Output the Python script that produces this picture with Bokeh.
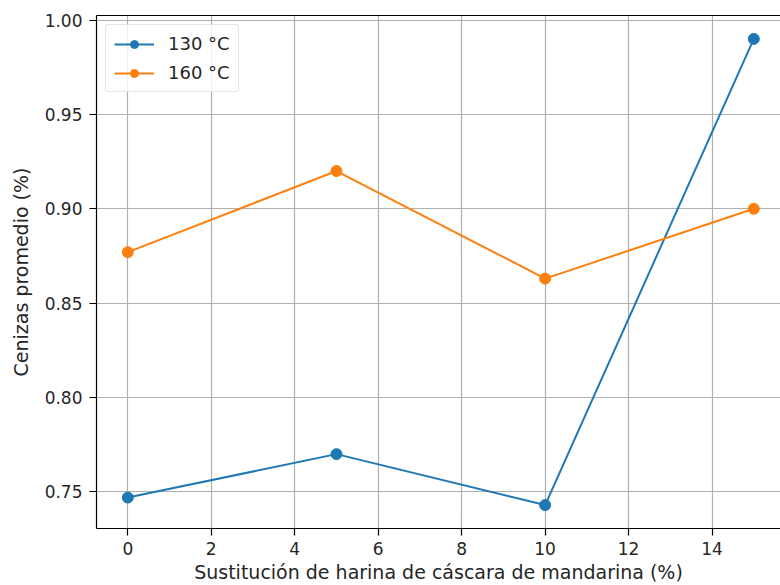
from bokeh.plotting import figure
from bokeh.models import Range1d, FixedTicker, LinearAxis, Legend, LegendItem, NumeralTickFormatter
from bokeh.embed import file_html
from bokeh.resources import INLINE

# Ash content by mandarin peel flour substitution level, at two baking temperatures
sustitucion = [0, 5, 10, 15]
cenizas_130 = [0.747, 0.770, 0.743, 0.990]
cenizas_160 = [0.877, 0.920, 0.863, 0.900]
x_ticks = [0, 2, 4, 6, 8, 10, 12, 14]
y_ticks = [0.75, 0.80, 0.85, 0.90, 0.95, 1.00]

FONT = "DejaVu Sans"
TICK_FS = "17px"
LABEL_FS = "19px"
LEGEND_FS = "18px"
TEXT = "#262626"
BLUE = "#1f77b4"
ORANGE = "#ff7f0e"

p = figure(width=780, height=585, output_backend="svg", toolbar_location=None,
           x_range=Range1d(-0.75, 15.64), y_range=Range1d(0.7306, 1.0024),
           min_border_left=96, min_border_right=0, min_border_top=15, min_border_bottom=57)
p.outline_line_color = None
p.background_fill_color = "white"
p.border_fill_color = "white"

for ax, ticks in ((p.xaxis[0], x_ticks), (p.yaxis[0], y_ticks)):
    ax.ticker = FixedTicker(ticks=ticks)
    ax.axis_line_color = "black"
    ax.axis_line_width = 1.2
    ax.major_tick_line_color = "black"
    ax.major_tick_line_width = 1.2
    ax.major_tick_in = 0
    ax.major_tick_out = 7
    ax.minor_tick_line_color = None
    ax.major_label_text_font = FONT
    ax.major_label_text_font_size = TICK_FS
    ax.major_label_text_color = TEXT
    ax.axis_label_text_font = FONT
    ax.axis_label_text_font_size = LABEL_FS
    ax.axis_label_text_font_style = "normal"
    ax.axis_label_text_color = TEXT

p.yaxis[0].formatter = NumeralTickFormatter(format="0.00")
p.xaxis[0].axis_label = "Sustitución de harina de cáscara de mandarina (%)"
p.yaxis[0].axis_label = "Cenizas promedio (%)"
p.xaxis[0].major_label_standoff = 6
p.yaxis[0].major_label_standoff = 7
p.xaxis[0].axis_label_standoff = 3
p.yaxis[0].axis_label_standoff = 10

# top spine only
top = LinearAxis(ticker=FixedTicker(ticks=[]), major_label_text_font_size="0px",
                 axis_line_color="black", axis_line_width=1.2,
                 major_tick_line_color=None, minor_tick_line_color=None)
p.add_layout(top, "above")

for g in (p.xgrid[0], p.ygrid[0]):
    g.grid_line_color = "#b0b0b0"
    g.grid_line_width = 1.2
p.xgrid[0].ticker = FixedTicker(ticks=x_ticks)
p.ygrid[0].ticker = FixedTicker(ticks=y_ticks)

l1 = p.line(sustitucion, cenizas_130, line_color=BLUE, line_width=2)
c1 = p.scatter(sustitucion, cenizas_130, fill_color=BLUE, line_color=BLUE, size=11)
l2 = p.line(sustitucion, cenizas_160, line_color=ORANGE, line_width=2)
c2 = p.scatter(sustitucion, cenizas_160, fill_color=ORANGE, line_color=ORANGE, size=11)

legend = Legend(items=[LegendItem(label="130 °C", renderers=[l1, c1]),
                       LegendItem(label="160 °C", renderers=[l2, c2])],
                location="top_left")
legend.margin = 9
legend.padding = 8
legend.spacing = 8
legend.glyph_width = 40
legend.glyph_height = 20
legend.label_height = 20
legend.label_standoff = 14
legend.label_text_font = FONT
legend.label_text_font_size = LEGEND_FS
legend.label_text_color = TEXT
legend.border_line_color = "#cccccc"
legend.border_line_width = 1
legend.background_fill_alpha = 0.8
legend.border_radius = 4
p.add_layout(legend)

open("out.html", "w").write(file_html(p, INLINE))
